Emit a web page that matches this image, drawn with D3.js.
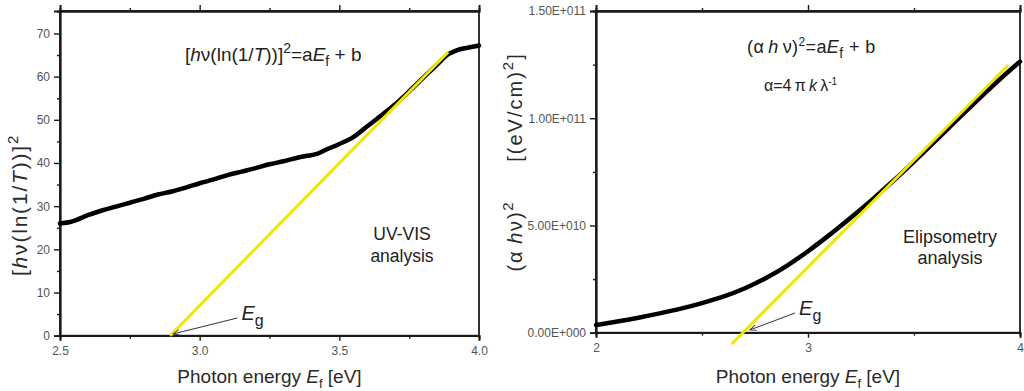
<!DOCTYPE html>
<html><head><meta charset="utf-8">
<script src="https://cdn.jsdelivr.net/npm/d3@7"></script>
<style>body{margin:0;background:#fff}svg{display:block;font-family:"Liberation Sans",Arial,sans-serif}</style>
</head><body><svg id="c" width="1024" height="391"></svg>
<script>
// ---- Left panel (UV-VIS) data ----
const energyL = [2.50,2.54,2.60,2.65,2.70,2.75,2.80,2.85,2.90,2.95,3.00,3.05,3.10,3.15,3.20,3.25,3.30,3.35,3.38,3.42,3.45,3.50,3.55,3.60,3.65,3.70,3.75,3.80,3.85,3.89,3.92,3.96,4.00];
const valueL  = [26.0,26.4,27.9,29.0,29.9,30.8,31.7,32.7,33.4,34.3,35.3,36.2,37.2,38.0,38.8,39.7,40.4,41.2,41.6,42.1,43.0,44.4,46.0,48.5,51.0,53.6,56.6,59.7,62.8,65.2,66.1,66.7,67.2];
const fitXL = [2.894, 3.89];
const fitYL = [0, 65.7];
const xTicksL = [2.5, 3.0, 3.5, 4.0];
const xTickLabelsL = ["2.5","3.0","3.5","4.0"];
const xMinorL = [2.75, 3.25, 3.75];
const yTicksL = [0,10,20,30,40,50,60,70];
const yMinorL = [5,15,25,35,45,55,65];
const egArrowL = {tip:[2.905,0.4], tail:[3.135,4.1]};

// ---- Right panel (Elipsometry) data ----
const energyR = [2.00,2.10,2.20,2.30,2.40,2.50,2.60,2.70,2.80,2.90,3.00,3.10,3.20,3.30,3.40,3.50,3.60,3.70,3.80,3.90,4.00];
const valueR  = [0.36e10,0.52e10,0.70e10,0.90e10,1.12e10,1.38e10,1.68e10,2.06e10,2.54e10,3.12e10,3.80e10,4.55e10,5.35e10,6.18e10,7.06e10,7.98e10,8.93e10,9.90e10,10.85e10,11.77e10,12.64e10];
const fitXR = [2.64, 3.945];
const fitYR = [-0.53e10, 12.48e10];
const xTicksR = [2, 3, 4];
const xTickLabelsR = ["2","3","4"];
const xMinorR = [2.5, 3.5];
const yTicksR = [0, 5e10, 1e11, 1.5e11];
const yTickLabelsR = ["0.00E+000","5.00E+010","1.00E+011","1.50E+011"];
const yMinorR = [2.5e10, 7.5e10, 1.25e11];
const egArrowR = {tip:[2.726,0.13e10], tail:[2.939,0.92e10]};

const svg = d3.select("#c");
svg.append("rect").attr("width",1024).attr("height",391).attr("fill","#fff");
const defs = svg.append("defs");
defs.append("marker").attr("id","ah").attr("viewBox","0 0 10 10").attr("refX",9).attr("refY",5)
  .attr("markerWidth",7).attr("markerHeight",7).attr("orient","auto")
  .append("path").attr("d","M0,1 L9,5 L0,9").attr("fill","none").attr("stroke","#333").attr("stroke-width",1.3);

const AX="#1a1a1a", TL="#555", TT="#2a2a2a";

function panel(o){
  const g = svg.append("g");
  const x=o.x, y=o.y;
  const [x0,x1]=x.range(), [y0,y1]=y.range();
  g.append("rect").attr("x",x0).attr("y",y1).attr("width",x1-x0).attr("height",y0-y1)
    .attr("fill","none").attr("stroke",AX).attr("stroke-width",1.8);
  g.append("g").attr("transform",`translate(0,${y0})`)
    .call(d3.axisBottom(x).tickValues(o.xTicks).tickFormat((d,i)=>o.xLabels[i]).tickSize(5).tickPadding(6));
  g.append("g").attr("transform",`translate(0,${y0})`)
    .call(d3.axisBottom(x).tickValues(o.xMinor).tickFormat("").tickSize(3));
  g.append("g").attr("transform",`translate(0,${y1})`)
    .call(d3.axisTop(x).tickValues(o.xTicks).tickFormat("").tickSize(6));
  g.append("g").attr("transform",`translate(0,${y1})`)
    .call(d3.axisTop(x).tickValues(o.xMinor).tickFormat("").tickSize(3));
  g.append("g").attr("transform",`translate(${x0},0)`)
    .call(d3.axisLeft(y).tickValues(o.yTicks).tickFormat((d,i)=>o.yLabels[i]).tickSize(6).tickPadding(4));
  g.append("g").attr("transform",`translate(${x0},0)`)
    .call(d3.axisLeft(y).tickValues(o.yMinor).tickFormat("").tickSize(3));
  g.selectAll(".domain").attr("stroke",AX).attr("stroke-width",1.8);
  g.selectAll(".tick line").attr("stroke",AX).attr("stroke-width",1.4);
  g.selectAll(".tick text").attr("fill",TL).style("font-size","12px").style("font-family","Liberation Sans, Arial, sans-serif");
  const line = d3.line().x(d=>x(d[0])).y(d=>y(d[1])).curve(d3.curveMonotoneX);
  g.append("path").datum(o.ex.map((e,i)=>[e,o.ev[i]])).attr("d",line)
    .attr("fill","none").attr("stroke","#000").attr("stroke-width",4.5).attr("stroke-linejoin","round").attr("stroke-linecap","round");
  g.append("path").datum(o.fx.map((e,i)=>[e,o.fy[i]])).attr("d",d3.line().x(d=>x(d[0])).y(d=>y(d[1])))
    .attr("fill","none").attr("stroke","#f2e600").attr("stroke-width",3);
  g.append("line").attr("x1",x(o.eg.tail[0])).attr("y1",y(o.eg.tail[1]))
    .attr("x2",x(o.eg.tip[0])).attr("y2",y(o.eg.tip[1]))
    .attr("stroke","#333").attr("stroke-width",1).attr("marker-end","url(#ah)");
  const eg = g.append("text").attr("x",x(o.eg.tail[0])+4).attr("y",y(o.eg.tail[1])+2)
    .attr("fill","#222").style("font-size","20px");
  eg.append("tspan").text("E").style("font-style","italic");
  eg.append("tspan").text("g").attr("dy",6).style("font-size","16px");
  const xt = g.append("text").attr("x",(x0+x1)/2).attr("y",383).attr("text-anchor","middle")
    .attr("fill",TT).style("font-size","19px");
  xt.append("tspan").text("Photon energy ");
  xt.append("tspan").text("E").style("font-style","italic");
  xt.append("tspan").text("f").attr("dy",5).style("font-size","13px");
  xt.append("tspan").text(" [eV]").attr("dy",-5);
  return g;
}

const xL = d3.scaleLinear().domain([2.5,4.0]).range([60,479]);
const yL = d3.scaleLinear().domain([0,75.2]).range([335.7,11]);
const gL = panel({x:xL,y:yL,xTicks:xTicksL,xLabels:xTickLabelsL,xMinor:xMinorL,
  yTicks:yTicksL,yLabels:yTicksL.map(String),yMinor:yMinorL,ex:energyL,ev:valueL,fx:fitXL,fy:fitYL,eg:egArrowL});

const xR = d3.scaleLinear().domain([2,4]).range([596,1020]);
const yR = d3.scaleLinear().domain([0,1.5e11]).range([332.7,11]);
const gR = panel({x:xR,y:yR,xTicks:xTicksR,xLabels:xTickLabelsR,xMinor:xMinorR,
  yTicks:yTicksR,yLabels:yTickLabelsR,yMinor:yMinorR,ex:energyR,ev:valueR,fx:fitXR,fy:fitYR,eg:egArrowR});

// ---- left annotations ----
let t = gL.append("text").attr("x",185).attr("y",61).attr("fill","#222").style("font-size","19px");
t.append("tspan").text("[");
t.append("tspan").text("h").style("font-style","italic");
t.append("tspan").text("\u03BD(ln(1/");
t.append("tspan").text("T").style("font-style","italic");
t.append("tspan").text("))]");
t.append("tspan").text("2").attr("dy",-8).style("font-size","14px");
t.append("tspan").text("=a").attr("dy",8);
t.append("tspan").text("E").style("font-style","italic");
t.append("tspan").text("f").attr("dy",5).style("font-size","14px");
t.append("tspan").text(" + b").attr("dy",-5);

gL.append("text").attr("x",402).attr("y",240).attr("text-anchor","middle").attr("fill","#222").style("font-size","17.5px").text("UV-VIS");
gL.append("text").attr("x",402).attr("y",262).attr("text-anchor","middle").attr("fill","#222").style("font-size","17.5px").text("analysis");

let yt = gL.append("text").attr("transform","translate(27,205) rotate(-90)").attr("text-anchor","middle")
  .attr("fill",TT).style("font-size","21px").style("letter-spacing","1.8px");
yt.append("tspan").text("[");
yt.append("tspan").text("h").style("font-style","italic");
yt.append("tspan").text("\u03BD(ln(1/");
yt.append("tspan").text("T").style("font-style","italic");
yt.append("tspan").text("))]");
yt.append("tspan").text("2").attr("dy",-9).style("font-size","15px");

// ---- right annotations ----
t = gR.append("text").attr("x",747).attr("y",53).attr("fill","#222").style("font-size","18px").style("letter-spacing","0.4px");
t.append("tspan").text("(\u03B1\u2009");
t.append("tspan").text("h").style("font-style","italic");
t.append("tspan").text("\u2009\u03BD)");
t.append("tspan").text("2").attr("dy",-7).style("font-size","12px");
t.append("tspan").text("=a").attr("dy",7);
t.append("tspan").text("E").style("font-style","italic");
t.append("tspan").text("f").attr("dy",5).style("font-size","14px");
t.append("tspan").text(" + b").attr("dy",-5);

t = gR.append("text").attr("x",764).attr("y",91).attr("fill","#222").style("font-size","16px");
t.append("tspan").text("\u03B1=4\u2009\u03C0\u2009");
t.append("tspan").text("k").style("font-style","italic");
t.append("tspan").text("\u2009\u03BB");
t.append("tspan").text("-1").attr("dy",-6).style("font-size","10px");

gR.append("text").attr("x",950).attr("y",243).attr("text-anchor","middle").attr("fill","#222").style("font-size","18px").text("Elipsometry");
gR.append("text").attr("x",950).attr("y",264).attr("text-anchor","middle").attr("fill","#222").style("font-size","18px").text("analysis");

yt = gR.append("text").attr("transform","translate(522,236) rotate(-90)").attr("text-anchor","middle")
  .attr("fill",TT).style("font-size","20px").style("letter-spacing","1.8px");
yt.append("tspan").text("(\u03B1\u2009");
yt.append("tspan").text("h").style("font-style","italic");
yt.append("tspan").text("\u03BD)");
yt.append("tspan").text("2").attr("dy",-9).style("font-size","15px");
yt = gR.append("text").attr("transform","translate(522,107) rotate(-90)").attr("text-anchor","middle")
  .attr("fill",TT).style("font-size","20px").style("letter-spacing","2px");
yt.append("tspan").text("[(eV/cm)");
yt.append("tspan").text("2").attr("dy",-9).style("font-size","15px");
yt.append("tspan").text("]").attr("dy",9);
</script></body></html>
